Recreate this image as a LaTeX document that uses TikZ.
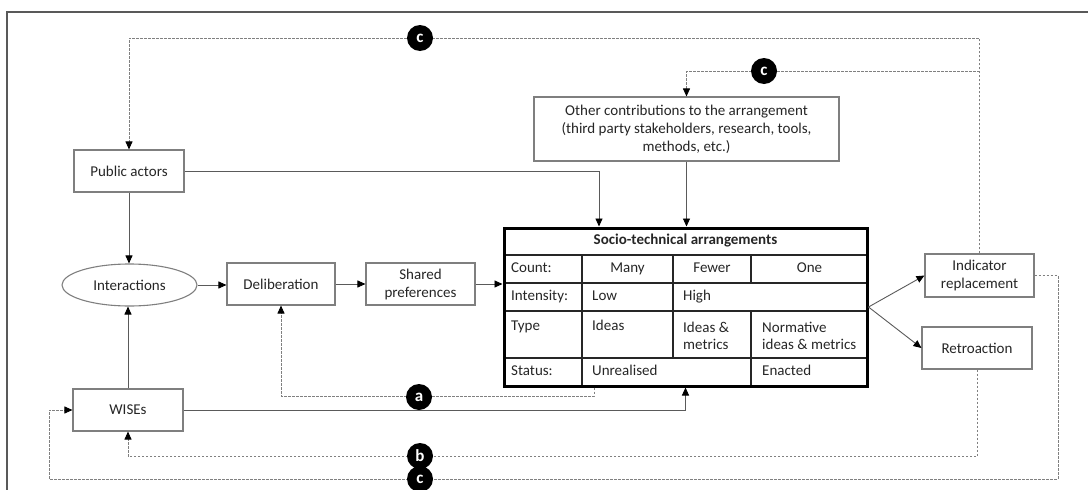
\documentclass[tikz,border=0pt]{standalone}
\usepackage{fontspec}
\setmainfont{Carlito}
\usetikzlibrary{arrows.meta,shapes.geometric,calc}
\definecolor{bx}{HTML}{7F7F7F}
\definecolor{ln}{HTML}{5A5A5A}
\definecolor{tx}{HTML}{262626}
\definecolor{dl}{HTML}{808080}
\begin{document}
\begin{tikzpicture}[x=1pt,y=-1pt,
  font=\fontsize{15}{18}\selectfont, text=tx,
  box/.style={draw=bx, line width=1.1pt, fill=white, minimum height=42pt, minimum width=110pt, inner sep=2pt, align=center},
  arr/.style={draw=ln, line width=0.9pt, -{Triangle[length=8pt,width=7pt,color=black]}},
  dsh/.style={draw=dl, line width=0.9pt, dash pattern=on 2.5pt off 1.5pt, -{Triangle[length=8pt,width=7pt,color=black]}},
  badge/.style={circle, fill=black, minimum size=26pt, inner sep=0pt, text=white, font=\fontsize{17}{17}\selectfont\bfseries},
  cell/.style={inner sep=0pt, text height=10.5pt, text depth=3.5pt},
  tc/.style={cell, anchor=west},
  mc/.style={inner sep=0pt, anchor=west, align=left, font=\fontsize{15}{17}\selectfont},
  gl/.style={draw=black!85, line width=1.2pt}
]
\useasboundingbox (0,0) rectangle (1088,490);
\draw[line width=1.5pt, draw=black!65] (1088,12) -- (7,12) -- (7,490);

% boxes
\node[box] (pa) at (129,171) {Public actors};
\node[box, ellipse, inner sep=0pt, minimum width=135pt, minimum height=42pt] (in) at (129.5,285) {Interactions};
\node[box, minimum width=108pt] (de) at (281,284) {Deliberation};
\node[box, minimum width=109pt] (sp) at (420.5,284) {Shared\\preferences};
\node[box] (wi) at (128,410) {WISEs};
\node[box, minimum width=305pt, minimum height=64pt] (oc) at (686.5,129) {Other contributions to the arrangement\\(third party stakeholders, research, tools,\\methods, etc.)};
\node[box, minimum width=109pt, minimum height=43pt] (ir) at (979.5,275.5) {Indicator\\replacement};
\node[box] (re) at (977,348) {Retroaction};

% table grid
\foreach \yy in {255,283,311,358} \draw[gl] (503,\yy) -- (868,\yy);
\draw[gl] (582,255) -- (582,387);
\draw[gl] (673,255) -- (673,358);
\draw[gl] (751,255) -- (751,283) (751,311) -- (751,387);
\node[draw=black, line width=3pt, minimum width=363pt, minimum height=158pt, inner sep=0pt] (sta) at (685.5,307) {};

% table texts
\node[cell, font=\fontsize{15}{18}\selectfont\bfseries] (t0) at (685.5,241) {Socio-technical arrangements};
\node[tc] (t1) at (511,269) {Count:};
\node[cell] (t2) at (627.5,269) {Many};
\node[cell] (t3) at (712,269) {Fewer};
\node[cell] (t4) at (809.5,269) {One};
\node[tc] (t5) at (511,297) {Intensity:};
\node[tc] (t6) at (592,297) {Low};
\node[tc] (t7) at (683,297) {High};
\node[tc] (t8) at (511,327) {Type};
\node[tc] (t9) at (592,327) {Ideas};
\node[mc] (t10) at (683,335.5) {Ideas \&\\metrics};
\node[mc] (t11) at (762,335.5) {Normative\\ideas \& metrics};
\node[tc] (t12) at (511,372) {Status:};
\node[tc] (t13) at (592,372) {Unrealised};
\node[tc] (t14) at (762,372) {Enacted};

% solid connectors
\draw[arr] (pa.south) -- (pa.south |- in.north);
\draw[arr] (wi.north) -- (wi.north |- in.south);
\draw[arr] (in.east) -- (in.east -| de.west);
\draw[arr] (de) -- (sp);
\draw[arr] (sp.east) -- (sp.east -| sta.west);
\draw[arr] (pa.east) -| ([xshift=-86.5pt]sta.north);
\draw[arr] (oc.south) -- (oc.south |- sta.north);
\draw[arr] (wi.east) -| (sta.south);
\draw[arr] (sta.east) -- (ir.west);
\draw[arr] (sta.east) -- (re.west);

% dashed feedback connectors
\coordinate (cbr) at (1058,479);
\coordinate (cbl) at (49,479);
\coordinate (ctr) at (979.5,38);
\coordinate (cmr) at (979.5,71);
\draw[dsh] ([xshift=-91.5pt]sta.south) -- ++(0,8.5) -| (de.south);
\draw[dsh] (re.south) -- ++(0,87) -| (wi.south);
\draw[dsh] (ir.east) -| (cbr) -- (cbl) |- (wi.west);
\draw[dsh] (ir.north) -- (ctr) -| (pa.north);
\draw[dsh] (cmr) -| (oc.north);

% badges
\node[badge] (ca) at (419,397) {a};
\node[badge] (cb) at (420,456) {b};
\node[badge] (cc1) at (420,38) {c};
\node[badge] (cc2) at (764,71) {c};
\node[badge] (cc3) at (420,479) {c};
\end{tikzpicture}
\end{document}
